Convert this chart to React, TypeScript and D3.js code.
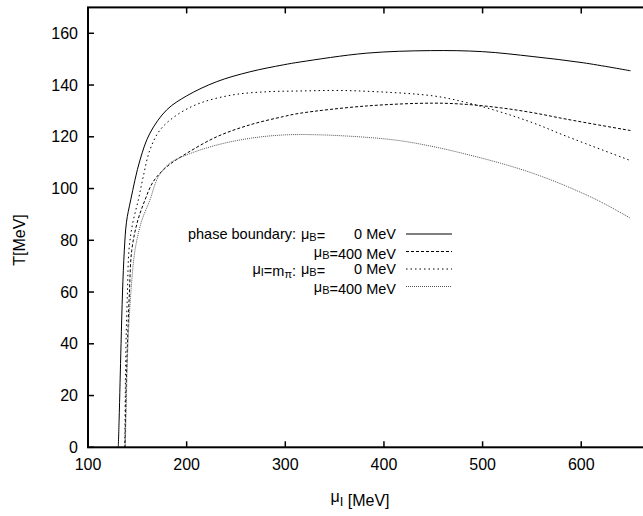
import React from 'react';
import * as d3 from 'd3';

// phase boundary, mu_B = 0 MeV
const pb0: [number, number][] = [
  [130.7, 0], [131.5, 10], [132.5, 25], [133.5, 40], [135, 60], [136.8, 76], [139, 87],
  [143.3, 95.6], [152.7, 111], [162.8, 121.4], [179.8, 130.4], [200, 135.8], [230.5, 141.3],
  [264, 145.1], [298, 147.8], [315, 148.9], [382, 152.3], [447, 153.3], [500, 152.9],
  [551, 151], [602, 148.6], [650, 145.5],
];
// phase boundary, mu_B = 400 MeV
const pb400: [number, number][] = [
  [137.5, 0], [138.5, 20], [140, 40], [142, 60], [144.3, 76], [150, 87], [157.8, 95.6],
  [166.2, 102.7], [179.8, 108.4], [200, 113.6], [230.5, 120], [264, 124.6], [298, 127.8],
  [315, 129.1], [382, 131.9], [450, 133], [484, 132.5], [518, 131.2], [551, 129.3],
  [585, 126.8], [650, 122.4],
];
// mu_I = m_pi, mu_B = 0 MeV
const mpi0: [number, number][] = [
  [137.3, 0], [137.8, 20], [138.5, 40], [140, 60], [141.5, 76], [145, 86], [151, 95.6],
  [156, 104.6], [162.8, 115], [173, 122.6], [190, 128.4], [213.5, 133], [247, 136.2],
  [281, 137.4], [315, 137.7], [350, 137.9], [382, 137.6], [450, 135.8], [484, 133.2],
  [518, 129.6], [551, 125.4], [585, 120.2], [650, 110.8],
];
// mu_I = m_pi, mu_B = 400 MeV
const mpi400: [number, number][] = [
  [137.8, 0], [139, 20], [140.5, 40], [143.5, 60], [147.6, 76], [154, 87], [162.8, 95.6],
  [171.3, 104.6], [183, 109.8], [200, 113], [230.5, 116.8], [264, 119.4], [298, 120.7],
  [330, 120.8], [382, 119.8], [416, 118.5], [450, 116.2], [484, 113.2], [518, 109.8],
  [551, 105.9], [585, 100.9], [619, 95], [650, 88.5],
];

const xTicks = [100, 200, 300, 400, 500, 600, 700];
const yTicks = [0, 20, 40, 60, 80, 100, 120, 140, 160];

const W = 643;
const H = 516;
const font = '"Liberation Sans", Arial, Helvetica, sans-serif';

const series = [
  { data: pb0, dash: 'none', color: '#000' },
  { data: pb400, dash: '3,2', color: '#000' },
  { data: mpi0, dash: '1.5,3', color: '#000' },
  { data: mpi400, dash: '1,1', color: '#555' },
];

const App = () => {
  const x = d3.scaleLinear().domain([100, 670]).range([88, 650.3]);
  const y = d3.scaleLinear().domain([0, 170]).range([447.3, 7.4]);

  const line = d3.line<[number, number]>()
    .x(d => x(d[0]))
    .y(d => y(d[1]))
    .curve(d3.curveCatmullRom.alpha(0.5));

  const x0 = x(100), x1 = x(670), y0 = y(0), y1 = y(170);
  const tick = 6;

  const legendRows = [234, 251.5, 269, 286.5];
  const textEnd = 396;
  const muStart = 301;

  const sub = (main: string, s: string, size = 13, shift = 4) => (
    <>
      {main}
      <tspan fontSize={size} dy={shift}>{s}</tspan>
      <tspan dy={-shift}></tspan>
    </>
  );

  return (
    <svg width={W} height={H} style={{ position: 'absolute', left: 0, top: 0, background: '#fff' }}
      fontFamily={font} fontSize={16}>
      <rect x={0} y={0} width={W} height={H} fill="#fff" />

      {/* curves */}
      <g fill="none" strokeWidth={1}>
        {series.map((s, i) => (
          <path key={i} d={line(s.data) || ''} stroke={s.color} strokeDasharray={s.dash} />
        ))}
      </g>

      {/* frame */}
      <rect x={x0} y={y1} width={x1 - x0} height={y0 - y1} fill="none" stroke="#000" strokeWidth={2} />

      {/* ticks */}
      <g stroke="#000" strokeWidth={1.5}>
        {xTicks.map(t => (
          <g key={t}>
            <line x1={x(t)} x2={x(t)} y1={y0} y2={y0 - tick} />
            <line x1={x(t)} x2={x(t)} y1={y1} y2={y1 + tick} />
          </g>
        ))}
        {yTicks.map(t => (
          <g key={t}>
            <line x1={x0} x2={x0 + tick} y1={y(t)} y2={y(t)} />
            <line x1={x1} x2={x1 - tick} y1={y(t)} y2={y(t)} />
          </g>
        ))}
      </g>

      <g fill="#000">
        {xTicks.filter(t => t <= 600).map(t => (
          <text key={t} x={x(t)} y={470} textAnchor="middle">{t}</text>
        ))}
        {yTicks.map(t => (
          <text key={t} x={78} y={y(t) + 5.5} textAnchor="end">{t}</text>
        ))}
      </g>

      {/* axis labels */}
      <text x={360} y={502} textAnchor="middle">{sub('μ', 'I')} [MeV]</text>
      <text transform={`translate(25,240) rotate(-90)`} textAnchor="middle">T[MeV]</text>

      {/* legend */}
      <g fontSize={14.5}>
        <text x={296} y={legendRows[0] + 5} textAnchor="end">phase boundary:</text>
        <text x={296} y={legendRows[2] + 5} textAnchor="end">{sub('μ', 'I', 11, 2)}=m<tspan fontSize={11} dy={2}>π</tspan><tspan dy={-2}>:</tspan></text>
        {legendRows.map((ry, i) => (
          <g key={i}>
            {i % 2 === 0 ? (
              <>
                <text x={muStart} y={ry + 5}>{sub('μ', 'B', 11, 2)}=</text>
                <text x={textEnd} y={ry + 5} textAnchor="end">0 MeV</text>
              </>
            ) : (
              <text x={textEnd} y={ry + 5} textAnchor="end">{sub('μ', 'B', 11, 2)}=400 MeV</text>
            )}
            <line x1={406} x2={452} y1={ry} y2={ry} stroke={series[i].color}
              strokeDasharray={series[i].dash} strokeWidth={1} />
          </g>
        ))}
      </g>
    </svg>
  );
};

export default App;
